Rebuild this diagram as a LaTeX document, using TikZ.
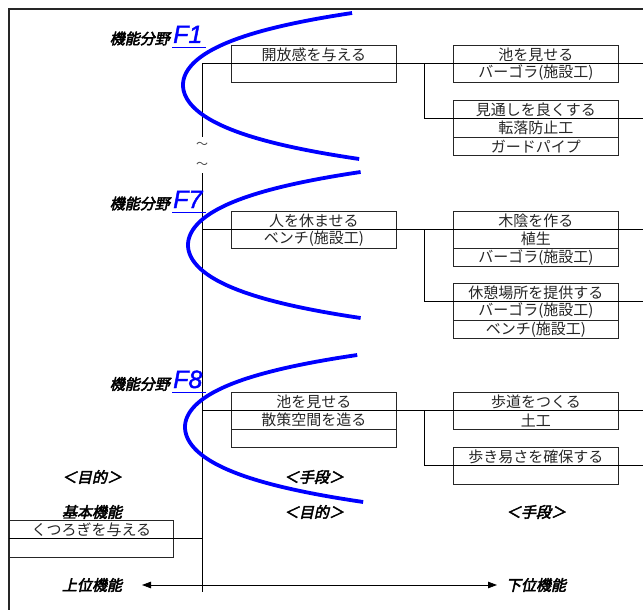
\documentclass[tikz,border=0pt]{standalone}
\usepackage{fontspec}
\newfontfamily\jp{Noto Sans CJK JP}
\newfontfamily\jpbi[FakeSlant=0.22,FakeBold=3]{Noto Sans CJK JP}
\newfontfamily\flab[FakeBold=1.5]{Liberation Sans}
\usetikzlibrary{arrows.meta}
\begin{document}
\begin{tikzpicture}[x=1pt,y=-1pt,
  cellbox/.style={draw=black!85, line width=0.8pt, minimum width=165pt, minimum height=18.4pt,
    inner sep=0pt, anchor=north west, font=\jp\fontsize{15pt}{15pt}\selectfont, text=black!85},
  basebox/.style={cellbox, minimum width=164pt},
  conn/.style={draw=black, line width=0.8pt},
  lab/.style={inner sep=0pt, font=\jpbi\fontsize{15pt}{15pt}\selectfont, text=black},
  flabel/.style={inner sep=0pt, anchor=base west, font=\flab\itshape\fontsize{25pt}{25pt}\selectfont, text=blue},
  uline/.style={draw=blue, line width=1.5pt},
  bcurve/.style={draw=blue, line width=3.8pt},
  tilde/.style={inner sep=0pt, font=\jp\fontsize{12pt}{12pt}\selectfont, text=black!70}
]
\useasboundingbox (0,0) rectangle (643,610);
% frame
\draw[line width=2pt, black!85] (643,9) -- (8.5,9) -- (8.5,610);

% ---- F1 ----
\node[cellbox] (a1) at (231,45) {開放感を与える};
\node[cellbox] (a1b) at (231,63.4) {};
\node[cellbox] (b1) at (453,45) {池を見せる};
\node[cellbox] (b1b) at (453,63.4) {バーゴラ(施設工)};
\node[cellbox] (c1) at (453,100) {見通しを良くする};
\node[cellbox] (c1b) at (453,118.4) {転落防止工};
\node[cellbox] (c1c) at (453,136.8) {ガードパイプ};

% ---- F7 ----
\node[cellbox] (a7) at (231,211) {人を休ませる};
\node[cellbox] (a7b) at (231,229.4) {ベンチ(施設工)};
\node[cellbox] (b7) at (453,211) {木陰を作る};
\node[cellbox] (b7b) at (453,229.4) {植生};
\node[cellbox] (b7c) at (453,247.8) {バーゴラ(施設工)};
\node[cellbox] (c7) at (453,283) {休憩場所を提供する};
\node[cellbox] (c7b) at (453,301.4) {バーゴラ(施設工)};
\node[cellbox] (c7c) at (453,319.8) {ベンチ(施設工)};

% ---- F8 ----
\node[cellbox] (a8) at (231,392) {池を見せる};
\node[cellbox] (a8b) at (231,410.4) {散策空間を造る};
\node[cellbox] (a8c) at (231,428.8) {};
\node[cellbox] (b8) at (453,392) {歩道をつくる};
\node[cellbox] (b8b) at (453,410.4) {土工};
\node[cellbox] (c8) at (453,447) {歩き易さを確保する};
\node[cellbox] (c8b) at (453,465.4) {};

% ---- basic function ----
\node[basebox] (k) at (9,520) {くつろぎを与える};
\node[basebox] (kb) at (9,538.4) {};

% ---- connector coordinates ----
\coordinate (ttop) at (202,63.4);
\coordinate (tbreak1) at (202,137);
\coordinate (tbreak2) at (202,173);
\coordinate (tbot) at (202,592);
\coordinate (e1) at (643,63.4);
\coordinate (s1) at (424,63.4);
\coordinate (s1d) at (424,118.4);
\coordinate (e1d) at (643,118.4);
\coordinate (t7) at (202,229.4);
\coordinate (e7) at (643,229.4);
\coordinate (s7) at (424,229.4);
\coordinate (s7d) at (424,301.4);
\coordinate (e7d) at (643,301.4);
\coordinate (t8) at (202,410.4);
\coordinate (e8) at (643,410.4);
\coordinate (s8) at (424,410.4);
\coordinate (s8d) at (424,465.4);
\coordinate (e8d) at (643,465.4);
\coordinate (tk) at (202,538.4);

\draw[conn] (ttop) -- (tbreak1);
\draw[conn] (tbreak2) -- (tbot);
\draw[conn] (ttop) -- (e1);
\draw[conn] (s1) -- (s1d) -- (e1d);
\draw[conn] (t7) -- (e7);
\draw[conn] (s7) -- (s7d) -- (e7d);
\draw[conn] (t8) -- (e8);
\draw[conn] (s8) -- (s8d) -- (e8d);
\draw[conn] (kb.north west) -- (tk);

\node[tilde] (w1) at (202,145.5) {～};
\node[tilde] (w2) at (202,165) {～};

% ---- blue curves ----
\draw[bcurve] plot[domain=13:159, samples=90, variable=\t] ({183+40*(cosh((\t-85)/(\t<85?30.8:31.2))-1)}, \t);
\draw[bcurve] plot[domain=172:318, samples=90, variable=\t] ({188+40*(cosh((\t-245)/31)-1)}, \t);
\draw[bcurve] plot[domain=355:502, samples=90, variable=\t] ({185+40*(cosh((\t-427)/(\t<427?30.6:31.5))-1)}, \t);

% ---- field labels ----
\node[lab, anchor=east] (g1) at (170,38.5) {機能分野};
\node[flabel] (f1) at (173,43) {F1};
\draw[uline] ([xshift=-1pt,yshift=-4.5pt]f1.base west) -- ([xshift=3pt,yshift=-4.5pt]f1.base east);
\node[lab, anchor=east] (g7) at (170,203.5) {機能分野};
\node[flabel] (f7) at (173,208) {F7};
\draw[uline] ([xshift=-1pt,yshift=-4.5pt]f7.base west) -- ([xshift=3pt,yshift=-4.5pt]f7.base east);
\node[lab, anchor=east] (g8) at (170,384) {機能分野};
\node[flabel] (f8) at (173,388) {F8};
\draw[uline] ([xshift=-1pt,yshift=-4.5pt]f8.base west) -- ([xshift=3pt,yshift=-4.5pt]f8.base east);

% ---- bottom labels ----
\node[lab] (p1) at (92,477) {＜目的＞};
\node[lab] (m1) at (314,477) {＜手段＞};
\node[lab] (p2) at (314,512) {＜目的＞};
\node[lab] (m2) at (536,512) {＜手段＞};
\node[lab] (kk) at (92,512) {基本機能};
\node[lab] (up) at (92,585) {上位機能};
\node[lab] (down) at (536,585) {下位機能};
\coordinate (al) at (142,585);
\coordinate (ar) at (497,585);
\draw[conn, {Triangle[length=9pt,width=6.5pt]}-{Triangle[length=9pt,width=6.5pt]}] (al) -- (ar);
\end{tikzpicture}
\end{document}
